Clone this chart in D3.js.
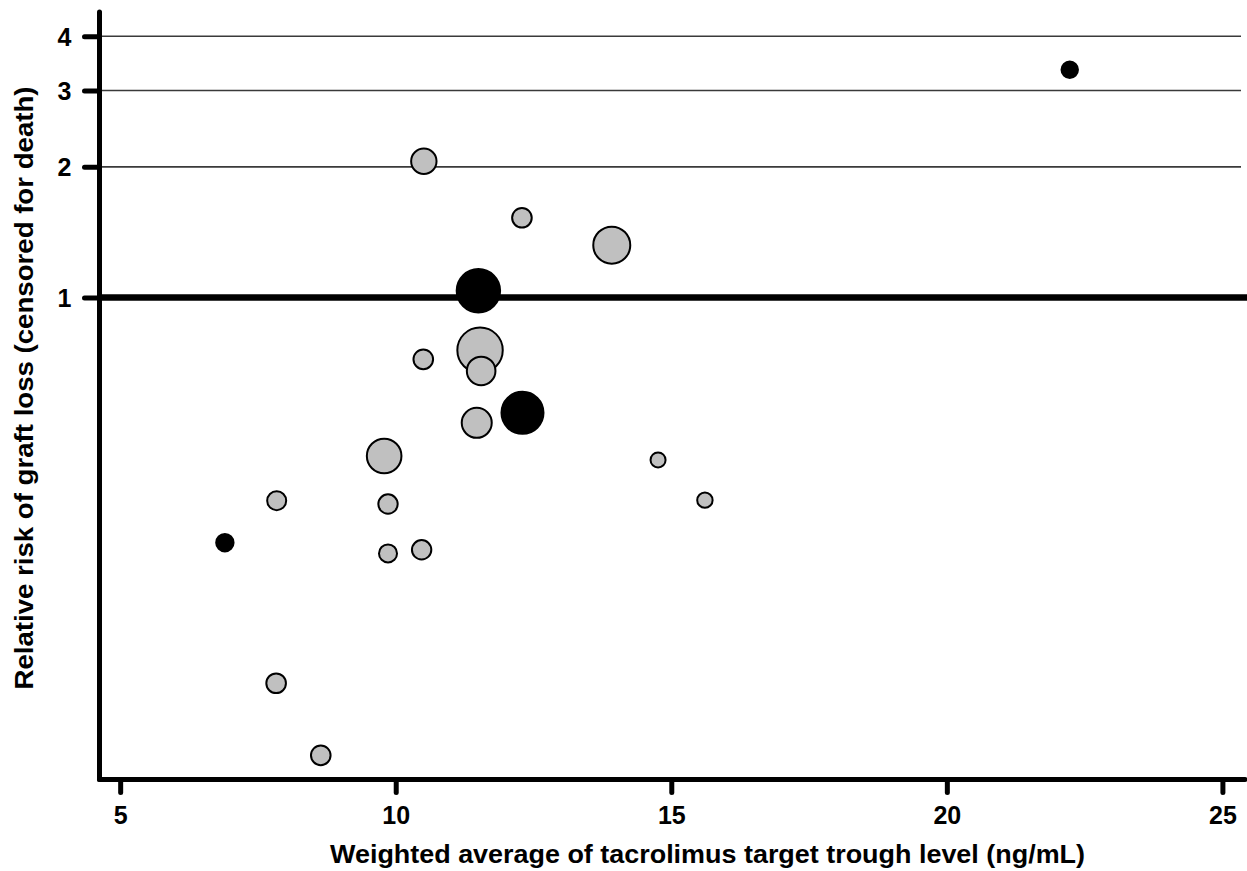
<!DOCTYPE html>
<html>
<head>
<meta charset="utf-8">
<script src="https://cdn.jsdelivr.net/npm/d3@7"></script>
<style>
  html, body { margin: 0; padding: 0; background: #fff; }
  svg { display: block; }
  text { font-family: "Liberation Sans", Arial, sans-serif; font-weight: bold; fill: #000; }
</style>
</head>
<body>
<svg id="chart" width="1247" height="871"></svg>
<script>
// Weighted average tacrolimus target trough level (ng/mL) per study
const troughLevel = [22.23, 10.51, 12.29, 13.92, 11.50, 11.53, 11.55, 10.50, 11.47, 12.30,
                     9.79, 14.76, 7.84, 9.86, 15.61, 6.90, 9.86, 10.47, 7.83, 8.64];
// Relative risk of graft loss (censored for death)
const relativeRisk = [3.35, 2.06, 1.526, 1.32, 1.036, 0.756, 0.677, 0.720, 0.514, 0.542,
                      0.431, 0.422, 0.340, 0.334, 0.341, 0.272, 0.257, 0.262, 0.129, 0.088];
// Study size (bubble area)
const studySize = [117, 280, 167, 594, 818, 895, 355, 167, 391, 766,
                   520, 98, 157, 163, 103, 131, 141, 163, 167, 167];
// Study group: "b" = black marker, "g" = grey marker
const studyGroup = ["b", "g", "g", "g", "b", "g", "g", "g", "g", "b",
                    "g", "g", "g", "g", "g", "b", "g", "g", "g", "g"];

const xTicks = [5, 10, 15, 20, 25];
const yTicks = [1, 2, 3, 4];
const gridTicks = [2, 3, 4];
const xTitle = "Weighted average of tacrolimus target trough level (ng/mL)";
const yTitle = "Relative risk of graft loss (censored for death)";

const svg = d3.select("#chart");

const x = d3.scaleLinear().domain([4.625, 25.41]).range([99.5, 1245]);
const y = d3.scaleLog().domain([0.0774, 4.55]).range([779.5, 12]);
const r = d3.scaleSqrt().domain([0, 1000]).range([0, 24]);

// Horizontal reference lines at 2, 3, 4
svg.append("g").selectAll("line")
  .data(gridTicks).join("line")
  .attr("x1", x(4.625)).attr("x2", 1241)
  .attr("y1", d => y(d)).attr("y2", d => y(d))
  .attr("stroke", "#3a3a3a").attr("stroke-width", 1.6);

// Null line at relative risk = 1
svg.append("line")
  .attr("x1", x(4.625)).attr("x2", 1247)
  .attr("y1", y(1)).attr("y2", y(1))
  .attr("stroke", "#000").attr("stroke-width", 6.5);

// Y axis
const yAxis = svg.append("g")
  .attr("transform", `translate(${x(4.625)},0)`)
  .call(d3.axisLeft(y).tickValues(yTicks).tickFormat(d3.format("d")).tickSize(15).tickPadding(13));
yAxis.select(".domain").remove();
yAxis.selectAll(".tick line").attr("stroke", "#000").attr("stroke-width", 5).attr("stroke-linecap", "round");
yAxis.selectAll(".tick text").attr("font-size", 25).attr("font-family", null).attr("dy", "0.36em");

// X axis
const xAxis = svg.append("g")
  .attr("transform", `translate(0,${y(0.0774)})`)
  .call(d3.axisBottom(x).tickValues(xTicks).tickFormat(d3.format("d")).tickSize(13).tickPadding(14));
xAxis.select(".domain").remove();
xAxis.selectAll(".tick line").attr("stroke", "#000").attr("stroke-width", 5).attr("stroke-linecap", "round");
xAxis.selectAll(".tick text").attr("font-size", 25).attr("font-family", null).attr("dy", "0.71em");

// Axis spines
svg.append("line")
  .attr("x1", x(4.625)).attr("x2", x(4.625))
  .attr("y1", y(4.55)).attr("y2", y(0.0774))
  .attr("stroke", "#000").attr("stroke-width", 5).attr("stroke-linecap", "round");
svg.append("line")
  .attr("x1", x(4.625)).attr("x2", 1245)
  .attr("y1", y(0.0774)).attr("y2", y(0.0774))
  .attr("stroke", "#000").attr("stroke-width", 5).attr("stroke-linecap", "round");

// Study bubbles, larger ones drawn first
const studies = troughLevel.map((t, i) => ({
  t, rr: relativeRisk[i], n: studySize[i], g: studyGroup[i]
})).sort((a, b) => b.n - a.n);

svg.append("g").selectAll("circle")
  .data(studies).join("circle")
  .attr("cx", d => x(d.t))
  .attr("cy", d => y(d.rr))
  .attr("r", d => r(d.n))
  .attr("fill", d => d.g === "b" ? "#000" : "#c0c0c0")
  .attr("stroke", "#000")
  .attr("stroke-width", 2);

// Axis titles
svg.append("text")
  .attr("x", 707.5).attr("y", 863)
  .attr("text-anchor", "middle")
  .attr("font-size", 25)
  .attr("textLength", 755).attr("lengthAdjust", "spacingAndGlyphs")
  .text(xTitle);

svg.append("text")
  .attr("transform", "translate(33,388) rotate(-90)")
  .attr("text-anchor", "middle")
  .attr("font-size", 25)
  .attr("textLength", 603).attr("lengthAdjust", "spacingAndGlyphs")
  .text(yTitle);
</script>
</body>
</html>
